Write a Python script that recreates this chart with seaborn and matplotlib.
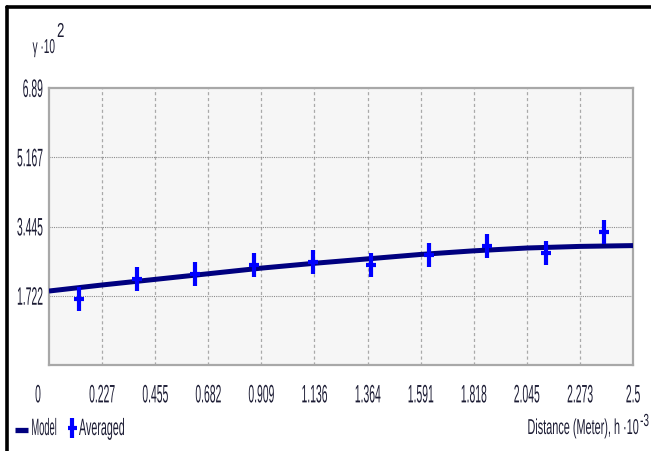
import matplotlib
matplotlib.use("Agg")
import matplotlib.pyplot as plt
import matplotlib.transforms as mtransforms
from matplotlib.path import Path
from matplotlib.lines import Line2D
from matplotlib.patheffects import AbstractPathEffect
import pandas as pd
import seaborn as sns

# Averaged empirical semivariogram (lag distance x10^-3 m, gamma x10^2)
avg_lag = [0.130, 0.377, 0.625, 0.877, 1.129, 1.378, 1.627, 1.876, 2.126, 2.375]
avg_gamma = [1.64, 2.13, 2.26, 2.49, 2.55, 2.49, 2.74, 2.96, 2.79, 3.32]

# Fitted model curve
model_lag = [0.0, 0.227, 0.455, 0.682, 0.909, 1.136, 1.364, 1.591, 1.818, 2.045, 2.273, 2.5]
model_gamma = [1.84, 1.99, 2.13, 2.27, 2.41, 2.53, 2.64, 2.75, 2.84, 2.91, 2.95, 2.97]

# Axis ticks
x_ticks = [0.0, 0.227, 0.455, 0.682, 0.909, 1.136, 1.364, 1.591, 1.818, 2.045, 2.273, 2.5]
x_tick_labels = ["0", "0.227", "0.455", "0.682", "0.909", "1.136", "1.364",
                 "1.591", "1.818", "2.045", "2.273", "2.5"]
y_ticks = [1.722, 3.445, 5.167, 6.89]
y_tick_labels = ["1.722", "3.445", "5.167", "6.89"]


class Condensed(AbstractPathEffect):
    """Draw text glyphs horizontally condensed / vertically stretched."""

    def __init__(self, sx=1.0, sy=1.0, width=None, hpivot="left", vpivot="baseline"):
        super().__init__()
        self.sx, self.sy, self.width = sx, sy, width
        self.hpivot, self.vpivot = hpivot, vpivot

    def draw_path(self, renderer, gc, tpath, affine, rgbFace=None):
        bb = tpath.get_extents(affine)
        ox, oy = affine.transform((0, 0))
        sx = self.sx
        if self.width is not None and bb.width > 0:
            sx = self.width * renderer.points_to_pixels(1) * 72 / 100 / bb.width
        px = {"left": bb.x0, "right": bb.x1, "center": 0.5 * (bb.x0 + bb.x1),
              "origin": ox}[self.hpivot]
        py = {"baseline": oy, "top": bb.y1, "bottom": bb.y0,
              "center": 0.5 * (bb.y0 + bb.y1)}[self.vpivot]
        t = affine + mtransforms.Affine2D().translate(-px, -py).scale(sx, self.sy).translate(px, py)
        renderer.draw_path(gc, tpath, t, rgbFace)


sns.set_style("white")
plt.rcParams["font.family"] = ["Liberation Sans", "DejaVu Sans"]

TEXT = "#1c1c34"
MODEL_C = "#00007f"
AVG_C = "#0000ff"
W, H = 651, 451


def fx(px):
    return px / W


def fy(py):
    return 1 - py / H


fig = plt.figure(figsize=(6.51, 4.51), dpi=100)
fig.patch.set_facecolor("white")
ax = fig.add_axes([fx(49), 86 / H, 584 / W, 277 / H])
ax.set_facecolor("#f6f6f6")

# Gridlines
for xv in x_ticks[1:-1]:
    ax.axvline(xv, color="#a9a9a9", lw=0.9, ls=(0, (2.5, 2.2)), zorder=0)
for yv in y_ticks[:-1]:
    ax.axhline(yv, color="#8c8c8c", lw=0.8, ls=(0, (1.0, 1.0)), zorder=0)

model_df = pd.DataFrame({"lag": model_lag, "gamma": model_gamma})
avg_df = pd.DataFrame({"lag": avg_lag, "gamma": avg_gamma})

sns.lineplot(data=model_df, x="lag", y="gamma", ax=ax, color=MODEL_C,
             lw=3.6, solid_capstyle="butt", zorder=3, legend=False)

# Plus marker with a long vertical arm
plus = Path([(0, -1), (0, 1), (-0.42, 0), (0.42, 0)],
            [Path.MOVETO, Path.LINETO, Path.MOVETO, Path.LINETO])
sns.scatterplot(data=avg_df, x="lag", y="gamma", ax=ax, marker=plus,
                s=300, linewidth=3.0, edgecolor=AVG_C, color=AVG_C,
                zorder=4, legend=False)

ax.set_xlim(0, 2.5)
ax.set_ylim(0, 6.89)
ax.set_xticks(x_ticks)
ax.set_xticklabels(x_tick_labels)
ax.set_yticks(y_ticks)
ax.set_yticklabels(y_tick_labels)
ax.tick_params(axis="both", length=0, labelsize=11, colors=TEXT)
ax.tick_params(axis="x", pad=14)
ax.tick_params(axis="y", pad=4.3)
ax.set_xlabel("")
ax.set_ylabel("")

for lbl in ax.get_xticklabels():
    lbl.set_path_effects([Condensed(sx=0.68, sy=1.65, hpivot="center", vpivot="top")])
for lbl in ax.get_yticklabels():
    lbl.set_path_effects([Condensed(sx=0.68, sy=1.65, hpivot="right", vpivot="center")])

# Shift the "0" label left of the corner
lbl0 = ax.get_xticklabels()[0]
lbl0.set_transform(lbl0.get_transform() +
                   mtransforms.ScaledTranslation(-11 / 100, 0, fig.dpi_scale_trans))

for side in ["top", "right", "bottom", "left"]:
    ax.spines[side].set_visible(True)
    ax.spines[side].set_color("#a8a8a8")
    ax.spines[side].set_linewidth(1.6)

# Legend row
fig.add_artist(Line2D([fx(15), fx(28)], [fy(430), fy(430)], color=MODEL_C,
                      lw=3.8, solid_capstyle="butt", transform=fig.transFigure))
plus_legend = Path([(0, -1), (0, 1), (-0.45, 0), (0.45, 0)],
                   [Path.MOVETO, Path.LINETO, Path.MOVETO, Path.LINETO])
fig.add_artist(Line2D([fx(72)], [fy(428)], ls="none", marker=plus_legend,
                      markersize=14.4, markeredgewidth=3.0, color=AVG_C,
                      transform=fig.transFigure))
t = fig.text(fx(31), fy(435), "Model", fontsize=10, color=TEXT,
             ha="left", va="baseline")
t.set_path_effects([Condensed(width=24, sy=1.7, hpivot="left")])
t = fig.text(fx(79), fy(435), "Averaged", fontsize=10, color=TEXT,
             ha="left", va="baseline")
t.set_path_effects([Condensed(width=45, sy=1.7, hpivot="left")])

# Axis titles
t = fig.text(fx(55), fy(53), "γ ·10", fontsize=10, color=TEXT,
             ha="right", va="baseline")
t.set_path_effects([Condensed(width=22, sy=1.45, hpivot="right")])
t = fig.text(fx(57), fy(37), "2", fontsize=10, color=TEXT,
             ha="left", va="baseline")
t.set_path_effects([Condensed(width=6, sy=1.45, hpivot="left")])
t = fig.text(fx(639), fy(434), "Distance (Meter), h ·10", fontsize=10,
             color=TEXT, ha="right", va="baseline")
t.set_path_effects([Condensed(width=110, sy=1.55, hpivot="right")])
t = fig.text(fx(640), fy(426), "-3", fontsize=9, color=TEXT,
             ha="left", va="baseline")
t.set_path_effects([Condensed(width=8, sy=1.4, hpivot="left")])

# Outer frame lines
fig.add_artist(Line2D([fx(7), fx(7)], [0, fy(7)], color="black",
                      lw=2.6, transform=fig.transFigure))
fig.add_artist(Line2D([fx(7), 1], [fy(7), fy(7)], color="black",
                      lw=2.6, transform=fig.transFigure))

fig.savefig("out.png", dpi=100)
